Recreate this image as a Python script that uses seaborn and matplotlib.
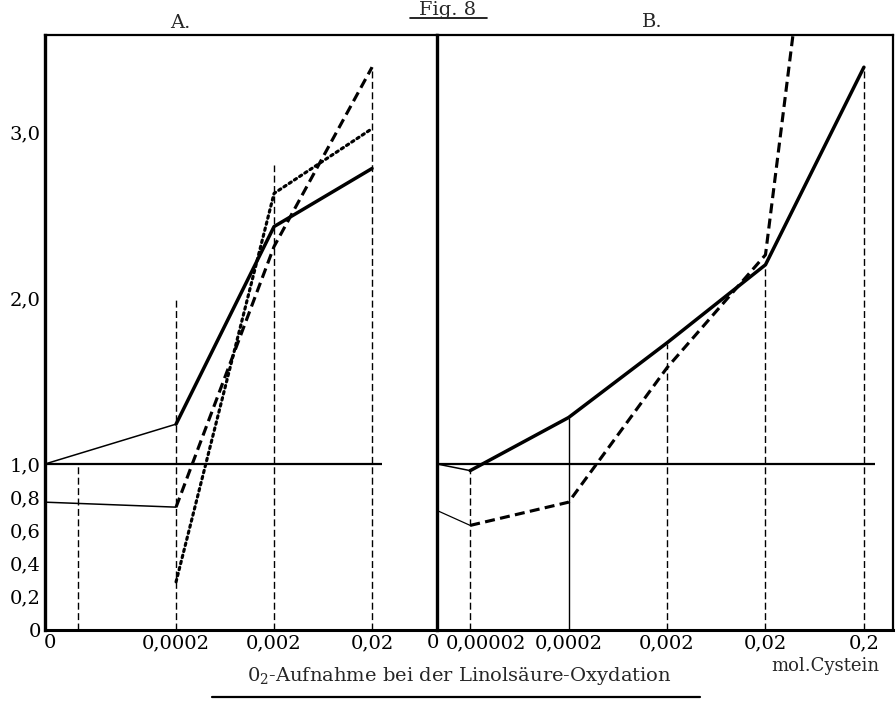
import numpy as np
import pandas as pd
import matplotlib
matplotlib.use("Agg")
import matplotlib.pyplot as plt
import matplotlib.transforms as mtransforms
from matplotlib.lines import Line2D
import seaborn as sns

# values (relative O2 uptake vs mol Cystein)
# panel A
a_conc = [0.0002, 0.002, 0.02]
a_solid = [1.24, 2.43, 2.78]
a_dashed = [0.74, 2.31, 3.39]
a_dotted = [0.29, 2.63, 3.02]
a_start_conc = [0, 0.0002]
a_solid_start = [1.0, 1.24]
a_dashed_start = [0.77, 0.74]
a_drop_conc = [0.00002, 0.0002, 0.002, 0.02]
a_drop_top = [1.0, 2.0, 2.8, 3.39]
a_ticks = [0, 0.0002, 0.002, 0.02]
a_ticklabels = ["0", "0,0002", "0,002", "0,02"]

# panel B
b_conc = [0.00002, 0.0002, 0.002, 0.02, 0.2]
b_solid = [0.96, 1.28, 1.73, 2.20, 3.39]
b_dashed = [0.63, 0.77, 1.58, 2.26, 7.0]
b_start_conc = [0, 0.00002]
b_solid_start = [1.0, 0.96]
b_dashed_start = [0.72, 0.63]
b_drop_top = [0.96, 1.28, 1.72, 2.20, 3.39]
b_drop_solid = [False, True, False, False, False]
b_ticks = [0, 0.00002, 0.0002, 0.002, 0.02, 0.2]
b_ticklabels = ["0", "0,00002", "0,0002", "0,002", "0,02", "0,2"]

y_ticks = [0, 0.2, 0.4, 0.6, 0.8, 1.0, 2.0, 3.0]
y_ticklabels = ["0", "0,2", "0,4", "0,6", "0,8", "1,0", "2,0", "3,0"]

sns.set_theme(style="white")
plt.rcParams["font.family"] = ["DejaVu Serif"]
plt.rcParams["mathtext.fontset"] = "dejavuserif"

# log axis where "0" sits a third of a decade left of 0.00002
ZERO_AT = 9.2e-6
def fwd(c):
    return np.log10(np.maximum(np.asarray(c, dtype=float), ZERO_AT))
def inv(p):
    return 10.0 ** np.asarray(p, dtype=float)

fig = plt.figure(figsize=(8.96, 7.04), dpi=100)
axA = fig.add_axes([45 / 896, 1 - 630 / 704, 392 / 896, 595 / 704])
axB = fig.add_axes([437 / 896, 1 - 630 / 704, 456 / 896, 595 / 704])
axB.patch.set_alpha(0)

thick = 2.5
thin = 1.1
dash = (0, (3.2, 1.7))
dot = (0, (0.8, 1.2))
drop_dash = (0, (5, 2.5))

for ax in (axA, axB):
    ax.set_xscale("function", functions=(fwd, inv))

# --- panel A
sns.lineplot(x=a_start_conc, y=a_solid_start, ax=axA, color="black", linewidth=thin)
sns.lineplot(x=a_start_conc, y=a_dashed_start, ax=axA, color="black", linewidth=thin)
sns.lineplot(x=a_conc, y=a_solid, ax=axA, color="black", linewidth=thick)
sns.lineplot(x=a_conc, y=a_dashed, ax=axA, color="black", linewidth=thick * 0.9, linestyle=dash)
sns.lineplot(x=a_conc, y=a_dotted, ax=axA, color="black", linewidth=thick * 0.9,
             linestyle=dot, dash_capstyle="round")
axA.vlines(a_drop_conc, 0, a_drop_top, colors="black", linewidth=1.0, linestyles=drop_dash)
axA.hlines(1.0, 0, 0.025, colors="black", linewidth=1.6)

# --- panel B
sns.lineplot(x=b_start_conc, y=b_solid_start, ax=axB, color="black", linewidth=thin)
sns.lineplot(x=b_start_conc, y=b_dashed_start, ax=axB, color="black", linewidth=thin * 0.8)
sns.lineplot(x=b_conc, y=b_solid, ax=axB, color="black", linewidth=thick)
sns.lineplot(x=b_conc, y=b_dashed, ax=axB, color="black", linewidth=thick * 0.9, linestyle=dash)
for c, top, solid in zip(b_conc, b_drop_top, b_drop_solid):
    axB.vlines(c, 0, top, colors="black", linewidth=1.0,
               linestyles="solid" if solid else drop_dash)
axB.hlines(1.0, 0, 0.258, colors="black", linewidth=1.6)

axA.set_xlim(0, 0.092)
axB.set_xlim(0, 0.395)
for ax in (axA, axB):
    ax.set_ylim(0, 3.584)
    ax.set_xlabel("")
    ax.set_ylabel("")
    ax.tick_params(axis="both", length=0, labelsize=14, colors="black")
    ax.tick_params(axis="x", pad=3)
    ax.minorticks_off()
    for s in ax.spines.values():
        s.set_color("black")
        s.set_visible(True)
    ax.spines["top"].set_linewidth(1.6)
    ax.spines["bottom"].set_linewidth(2.2)

axA.set_xticks(a_ticks)
axA.set_xticklabels(a_ticklabels)
axA.set_yticks(y_ticks)
axA.set_yticklabels(y_ticklabels)
axA.tick_params(axis="y", pad=3)
axA.spines["left"].set_linewidth(2.4)
axA.spines["right"].set_visible(False)

axB.set_xticks(b_ticks)
axB.set_xticklabels(b_ticklabels)
axB.set_yticks([])
axB.spines["left"].set_linewidth(2.4)
axB.spines["right"].set_linewidth(1.6)

# the typed labels sit a little off their marks
def nudge(label, px):
    label.set_transform(label.get_transform() +
                        mtransforms.ScaledTranslation(px / 100, 0, fig.dpi_scale_trans))

nudge(axA.get_xticklabels()[0], 5)
lbl = axB.get_xticklabels()
nudge(lbl[0], -4)
nudge(lbl[1], 16)

# panel titles and figure texts
axA.text((180 - 45) / 392, 1 + 7 / 595, "A.", transform=axA.transAxes,
         ha="center", va="baseline", fontsize=14)
axB.text((652 - 437) / 456, 1 + 8 / 595, "B.", transform=axB.transAxes,
         ha="center", va="baseline", fontsize=14)
fig.text(448 / 896, 1 - 15 / 704, "Fig. 8", ha="center", va="baseline", fontsize=14)
fig.add_artist(Line2D([410 / 896, 487 / 896], [1 - 18 / 704] * 2, color="black", linewidth=1.2))

fig.text(459 / 896, 1 - 681 / 704, r"0$_2$-Aufnahme bei der Linolsäure-Oxydation",
         ha="center", va="baseline", fontsize=14)
fig.add_artist(Line2D([212 / 896, 700 / 896], [1 - 697 / 704] * 2, color="black", linewidth=1.6))
fig.text(825 / 896, 1 - 671 / 704, "mol.Cystein", ha="center", va="baseline", fontsize=13)

fig.savefig("out.png", dpi=100)
